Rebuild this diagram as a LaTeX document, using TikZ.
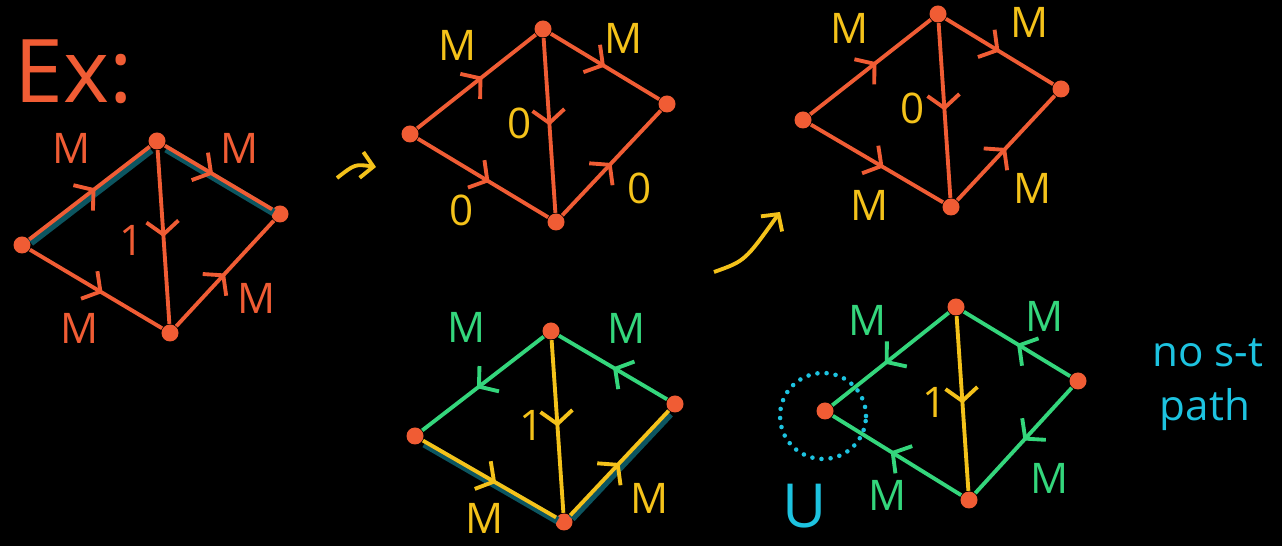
\documentclass[tikz,border=0pt]{standalone}
\usepackage{fontspec}
\setsansfont{Open Sans}
\usetikzlibrary{arrows.meta,decorations.markings}
\definecolor{kbg}{HTML}{000000}
\definecolor{kor}{HTML}{F05C34}
\definecolor{kye}{HTML}{F4C21A}
\definecolor{kgr}{HTML}{34D67C}
\definecolor{kcy}{HTML}{1DC3E0}
\definecolor{kte}{HTML}{0C5560}
\tikzset{
  vtx/.style={circle,fill=kor,inner sep=0pt,minimum size=0.17cm},
  edge/.style={line width=1.1pt},
  mid/.style={postaction={decorate},decoration={markings,
      mark=at position #1 with {\arrow[line width=1.1pt]{Straight Barb[length=1.3mm,width=3.2mm]}}}},
  mid/.default=0.55,
  hl/.style={kte,line width=2.2pt,transform canvas={shift={(0.4pt,-0.9pt)}}},
  lbl/.style={font=\sffamily\large},
  hint/.style={kye,line width=1.1pt,-{Straight Barb[length=1.2mm,width=2.6mm]}}
}
\begin{document}
\begin{tikzpicture}[x=1cm,y=1cm]
  % Background
  \fill[kbg] (0,0) rectangle (12.82,5.46);
  \useasboundingbox (0,0) rectangle (12.82,5.46);

  \node[kor,font=\sffamily\fontsize{25}{25}\selectfont] (ex) at (0.74,4.74) {Ex:};

  % Graph 1: the flow network
  \node[vtx] (g1s) at (0.22,3.01) {};
  \node[vtx] (g1a) at (1.57,4.05) {};
  \node[vtx] (g1b) at (2.80,3.32) {};
  \node[vtx] (g1t) at (1.70,2.13) {};
  \draw[hl] (g1s) -- (g1a) -- (g1b);
  \draw[kor,edge,mid] (g1s) -- (g1a);
  \draw[kor,edge,mid=0.45] (g1a) -- (g1b);
  \draw[kor,edge,mid=0.5] (g1a) -- (g1t);
  \draw[kor,edge,mid=0.55] (g1s) -- (g1t);
  \draw[kor,edge,mid=0.5] (g1t) -- (g1b);
  \node[kor,lbl] (g1l1) at (0.72,3.98) {M};
  \node[kor,lbl] (g1l2) at (2.40,3.98) {M};
  \node[kor,lbl] (g1l3) at (1.32,3.06) {1};
  \node[kor,lbl] (g1l4) at (0.80,2.18) {M};
  \node[kor,lbl] (g1l5) at (2.57,2.48) {M};

  % Hint arrows
  \coordinate (h1a) at (3.37,3.68);
  \coordinate (h1b) at (3.76,3.79);
  \draw[hint] (h1a) .. controls (3.55,3.82) .. (h1b);
  \coordinate (h2a) at (7.14,2.74);
  \coordinate (h2b) at (7.80,3.34);
  \draw[hint] (h2a) .. controls (7.45,2.85) .. (h2b);

  % Graph 2: flow after first path
  \node[vtx] (g2s) at (4.10,4.12) {};
  \node[vtx] (g2a) at (5.43,5.17) {};
  \node[vtx] (g2b) at (6.67,4.42) {};
  \node[vtx] (g2t) at (5.56,3.24) {};
  \draw[kor,edge,mid] (g2s) -- (g2a);
  \draw[kor,edge,mid=0.5] (g2a) -- (g2b);
  \draw[kor,edge,mid=0.5] (g2a) -- (g2t);
  \draw[kor,edge,mid=0.55] (g2s) -- (g2t);
  \draw[kor,edge,mid=0.5] (g2t) -- (g2b);
  \node[kye,lbl] (g2l1) at (4.58,5.01) {M};
  \node[kye,lbl] (g2l2) at (6.24,5.08) {M};
  \node[kye,lbl] (g2l3) at (5.20,4.23) {0};
  \node[kye,lbl] (g2l4) at (4.62,3.36) {0};
  \node[kye,lbl] (g2l5) at (6.40,3.58) {0};

  % Graph 3: the final flow
  \node[vtx] (g3s) at (8.03,4.26) {};
  \node[vtx] (g3a) at (9.38,5.32) {};
  \node[vtx] (g3b) at (10.61,4.57) {};
  \node[vtx] (g3t) at (9.51,3.39) {};
  \draw[kor,edge,mid] (g3s) -- (g3a);
  \draw[kor,edge,mid=0.5] (g3a) -- (g3b);
  \draw[kor,edge,mid=0.5] (g3a) -- (g3t);
  \draw[kor,edge,mid=0.55] (g3s) -- (g3t);
  \draw[kor,edge,mid=0.5] (g3t) -- (g3b);
  \node[kye,lbl] (g3l1) at (8.50,5.18) {M};
  \node[kye,lbl] (g3l2) at (10.30,5.24) {M};
  \node[kye,lbl] (g3l3) at (9.13,4.38) {0};
  \node[kye,lbl] (g3l4) at (8.70,3.41) {M};
  \node[kye,lbl] (g3l5) at (10.33,3.58) {M};

  % Graph 4: residual graph
  \node[vtx] (g4s) at (4.15,1.10) {};
  \node[vtx] (g4a) at (5.51,2.15) {};
  \node[vtx] (g4b) at (6.75,1.42) {};
  \node[vtx] (g4t) at (5.64,0.24) {};
  \draw[hl] (g4s) -- (g4t) -- (g4b);
  \draw[kgr,edge,mid=0.55] (g4a) -- (g4s);
  \draw[kgr,edge,mid=0.5] (g4b) -- (g4a);
  \draw[kye,edge,mid=0.5] (g4a) -- (g4t);
  \draw[kye,edge,mid=0.55] (g4s) -- (g4t);
  \draw[kye,edge,mid=0.5] (g4t) -- (g4b);
  \node[kgr,lbl] (g4l1) at (4.67,2.19) {M};
  \node[kgr,lbl] (g4l2) at (6.27,2.18) {M};
  \node[kye,lbl] (g4l3) at (5.32,1.21) {1};
  \node[kye,lbl] (g4l4) at (4.85,0.28) {M};
  \node[kye,lbl] (g4l5) at (6.50,0.48) {M};

  % Graph 5: final residual graph
  \node[vtx] (g5s) at (8.25,1.35) {};
  \node[vtx] (g5a) at (9.56,2.39) {};
  \node[vtx] (g5b) at (10.78,1.65) {};
  \node[vtx] (g5t) at (9.69,0.46) {};
  \draw[kgr,edge,mid=0.55] (g5a) -- (g5s);
  \draw[kgr,edge,mid=0.5] (g5b) -- (g5a);
  \draw[kye,edge,mid=0.5] (g5a) -- (g5t);
  \draw[kgr,edge,mid=0.55] (g5t) -- (g5s);
  \draw[kgr,edge,mid=0.5] (g5b) -- (g5t);
  \node[kgr,lbl] (g5l1) at (8.68,2.26) {M};
  \node[kgr,lbl] (g5l2) at (10.45,2.30) {M};
  \node[kye,lbl] (g5l3) at (9.35,1.44) {1};
  \node[kgr,lbl] (g5l4) at (8.88,0.51) {M};
  \node[kgr,lbl] (g5l5) at (10.50,0.68) {M};

  % The cut
  \draw[kcy,line width=1.3pt,dash pattern=on 0pt off 2.6pt,line cap=round] (8.23,1.30) circle (0.43);
  \node[kcy,font=\sffamily\LARGE] (cutU) at (8.05,0.40) {U};
  \node[kcy,font=\sffamily\large] (nost) at (12.08,1.93) {no s-t};
  \node[kcy,font=\sffamily\large] (path) at (12.05,1.36) {path};
\end{tikzpicture}
\end{document}
